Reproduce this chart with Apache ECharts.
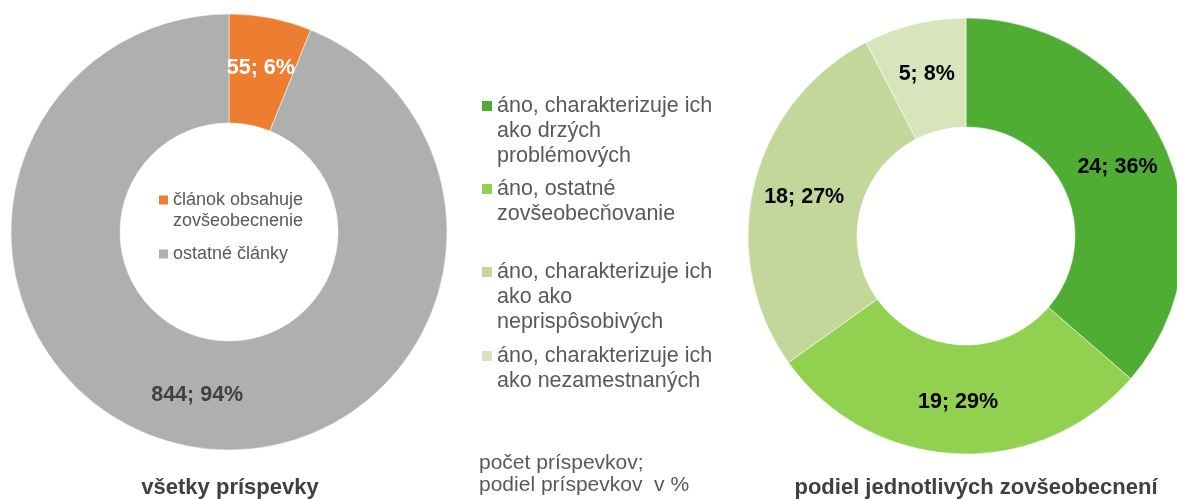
<!DOCTYPE html>
<html>
<head>
<meta charset="utf-8">
<script src="https://cdn.jsdelivr.net/npm/echarts@6/dist/echarts.min.js"></script>
<style>
  html, body { margin: 0; padding: 0; background: #fff; }
  #main { width: 1177px; height: 499px; }
</style>
</head>
<body>
<div id="main"></div>
<script>
// všetky príspevky
var allNames = ['článok obsahuje zovšeobecnenie', 'ostatné články'];
var allLegendText = ['článok obsahuje\nzovšeobecnenie', 'ostatné články'];
var allValues = [55, 844];
var allColors = ['#ED7D31', '#AFAFAF'];
var allLabelColors = ['#ffffff', '#404040'];

// podiel jednotlivých zovšeobecnení
var genNames = [
  'áno, charakterizuje ich ako drzých problémových',
  'áno, ostatné zovšeobecňovanie',
  'áno, charakterizuje ich ako ako neprispôsobivých',
  'áno, charakterizuje ich ako nezamestnaných'
];
var genLegendText = [
  'áno, charakterizuje ich\nako drzých\nproblémových',
  'áno, ostatné\nzovšeobecňovanie',
  'áno, charakterizuje ich\nako ako\nneprispôsobivých',
  'áno, charakterizuje ich\nako nezamestnaných'
];
var genValues = [24, 19, 18, 5];
var genColors = ['#50AD33', '#92D050', '#C4D79B', '#D8E4BC'];

var FONT = '"Liberation Sans", Arial, sans-serif';

var legends = [];
var graphics = [];

// one legend per item: marker + first line; the rest of the wrapped text goes below it
function addLegend(name, text, left, firstLineY, size, lh, icon) {
  var lines = text.split('\n');
  legends.push({
    data: [name],
    left: left,
    top: firstLineY - lh / 2,
    padding: 0,
    icon: 'rect',
    itemWidth: icon,
    itemHeight: icon,
    itemStyle: { borderWidth: 0 },
    selectedMode: false,
    formatter: function () { return lines[0]; },
    textStyle: { fontFamily: FONT, fontSize: size, lineHeight: lh, color: '#595959' }
  });
  if (lines.length > 1) {
    graphics.push({
      type: 'text',
      x: left + icon + 5,
      y: firstLineY + lh / 2,
      style: {
        text: lines.slice(1).join('\n'),
        font: size + 'px ' + FONT,
        lineHeight: lh,
        fill: '#595959',
        align: 'left',
        verticalAlign: 'top'
      }
    });
  }
}

var allFirstY = [200, 254];
for (var i = 0; i < allNames.length; i++) {
  addLegend(allNames[i], allLegendText[i], 159, allFirstY[i], 18, 21, 9);
}
var genFirstY = [106, 189, 272, 356];
for (var j = 0; j < genNames.length; j++) {
  addLegend(genNames[j], genLegendText[j], 482, genFirstY[j], 21.5, 25, 10);
}

graphics.push(
  {
    type: 'text', x: 230, y: 488,
    style: { text: 'všetky príspevky', font: 'bold 22px ' + FONT, fill: '#404040', align: 'center', verticalAlign: 'middle' }
  },
  {
    type: 'text', x: 976, y: 488,
    style: { text: 'podiel jednotlivých zovšeobecnení', font: 'bold 22px ' + FONT, fill: '#404040', align: 'center', verticalAlign: 'middle' }
  },
  {
    type: 'text', x: 479, y: 474,
    style: {
      text: 'počet príspevkov;\npodiel príspevkov  v %',
      font: '21px ' + FONT,
      lineHeight: 22, fill: '#595959', align: 'left', verticalAlign: 'middle'
    }
  }
);

function labelFmt(p) {
  return p.value + '; ' + Math.round(p.percent) + '%';
}

var myChart = echarts.init(document.getElementById('main'));
myChart.setOption({
  animation: false,
  legend: legends,
  graphic: graphics,
  series: [
    {
      name: 'všetky príspevky',
      type: 'pie',
      center: [229, 232],
      radius: [109, 218],
      startAngle: 90,
      clockwise: true,
      itemStyle: { borderColor: '#fff', borderWidth: 0.5 },
      label: {
        position: 'inside',
        formatter: labelFmt,
        fontFamily: FONT,
        fontSize: 21.5,
        fontWeight: 'bold'
      },
      labelLine: { show: false },
      emphasis: { disabled: true },
      data: allNames.map(function (n, k) {
        return {
          name: n, value: allValues[k],
          itemStyle: { color: allColors[k] },
          label: { color: allLabelColors[k] }
        };
      })
    },
    {
      name: 'podiel jednotlivých zovšeobecnení',
      type: 'pie',
      center: [966, 236],
      radius: [109, 218],
      startAngle: 90,
      clockwise: true,
      itemStyle: { borderColor: '#fff', borderWidth: 0.5 },
      label: {
        position: 'inside',
        formatter: labelFmt,
        fontFamily: FONT,
        fontSize: 21.5,
        fontWeight: 'bold',
        color: '#000'
      },
      labelLine: { show: false },
      emphasis: { disabled: true },
      data: genNames.map(function (n, k) {
        return { name: n, value: genValues[k], itemStyle: { color: genColors[k] } };
      })
    }
  ]
});
</script>
</body>
</html>
